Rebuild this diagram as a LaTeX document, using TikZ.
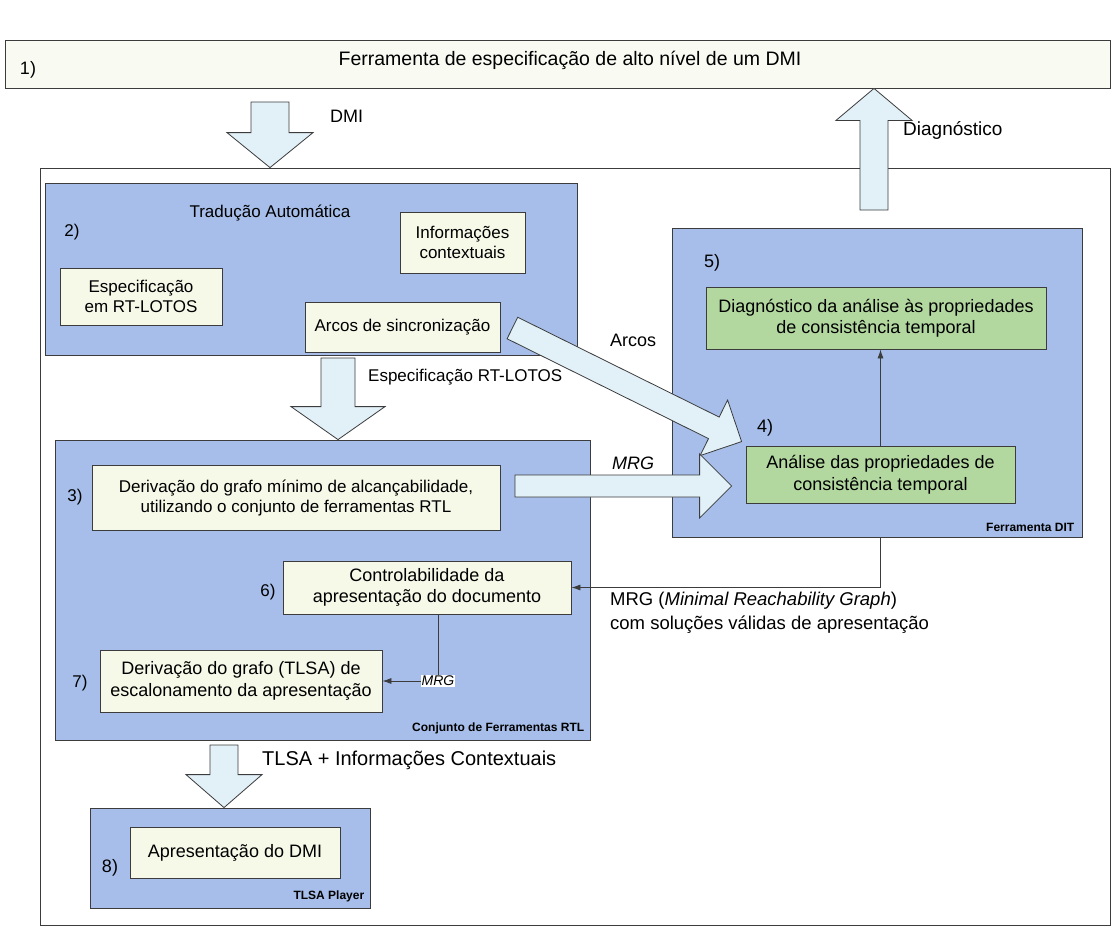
\documentclass[tikz,border=0pt]{standalone}
\usepackage{fontspec}
\setmainfont{Liberation Sans}
\usetikzlibrary{calc,arrows.meta}

\definecolor{linegray}{RGB}{60,60,60}
\definecolor{panelblue}{RGB}{166,190,233}
\definecolor{cream}{RGB}{246,248,232}
\definecolor{boxgreen}{RGB}{178,216,160}
\definecolor{arrowfill}{RGB}{226,240,248}
\definecolor{topfill}{RGB}{249,251,243}

\tikzset{
  every node/.style={font=\fontsize{17}{20}\selectfont},
  big/.style={font=\fontsize{18}{21.5}\selectfont},
  framebox/.style={draw=linegray, line width=0.8pt, inner sep=0pt},
  panel/.style={framebox, fill=panelblue},
  stepbox/.style={framebox, fill=cream, align=center},
  greenbox/.style={framebox, fill=boxgreen, align=center, big},
  tag/.style={font=\fontsize{12}{13}\selectfont\bfseries, anchor=south east, inner sep=0pt},
  lbl/.style={anchor=west, inner sep=0pt},
  hollow/.style={draw=linegray, line width=0.8pt, fill=arrowfill, line join=miter},
  conn/.style={draw=linegray, line width=0.8pt, -{Latex[length=9pt,width=6pt]}},
  smalllbl/.style={font=\fontsize{14}{16}\selectfont\itshape, fill=white, inner sep=1pt},
}

% rectangle node given by its corners: name, style, x1, y1, x2, y2, text
\newcommand\boxat[7]{%
  \node[#2, minimum width={(#5-#3)*1pt}, minimum height={(#6-#4)*1pt}]
    (#1) at ({(#3+#5)/2},{(#4+#6)/2}) {#7};}

% hollow block arrow: tail, tip, shaft half width, head half width, head length
\newcommand\hollowarrow[5]{%
  \coordinate (ha-b) at ($(#2)!#5!(#1)$);
  \draw[hollow] ($(#1)!#3!90:(#2)$) -- ($(ha-b)!#3!-90:(#1)$)
    -- ($(ha-b)!#4!-90:(#1)$) -- (#2) -- ($(ha-b)!#4!90:(#1)$)
    -- ($(ha-b)!#3!90:(#1)$) -- ($(#1)!#3!-90:(#2)$) -- cycle;}

\begin{document}
\begin{tikzpicture}[x=1pt, y=-1pt]
\fill[white] (0,0) rectangle (1119,938);
\useasboundingbox (0,0) rectangle (1119,938);

% specification tool and the surrounding frame
\boxat{box1}{framebox, fill=topfill}{5}{40}{1110}{88}{}
\node[font=\fontsize{19.5}{23}\selectfont] at (570,60) (box1txt) {Ferramenta de especificação de alto nível de um DMI};
\node[big] at (28,70) (n1) {1)};
\boxat{outer}{framebox, fill=white}{40}{168}{1110}{925}{}

% 2) automatic translation
\boxat{box2}{panel}{45}{183}{577}{355}{}
\node at (72,232) (n2) {2)};
\node at (270,213) (tradtxt) {Tradução Automática};
\boxat{info}{stepbox}{400}{212}{525}{273}{Informações\\contextuais}
\boxat{espec}{stepbox}{60}{268}{222}{325}{Especificação\\em RT-LOTOS}
\boxat{arcos}{stepbox}{305}{302}{500}{352}{Arcos de sincronização}

% 5) DIT tool
\boxat{box5}{panel}{672}{228}{1082}{537}{}
\node[big] at (712,263) (n5) {5)};
\boxat{diag}{greenbox}{706}{287}{1046}{349}{Diagnóstico da análise às propriedades\\de consistência temporal}
\node[big] at (765,428) (n4) {4)};
\boxat{analise}{greenbox}{746}{446}{1015}{503}{Análise das propriedades de\\consistência temporal}
\node[tag] at ($(box5.south east)+(-8,-6)$) (dittag) {Ferramenta DIT};

% 3) RTL tool set
\boxat{box3}{panel}{55}{440}{590}{740}{}
\node at (75,497) (n3) {3)};
\boxat{deriv}{stepbox}{92}{465}{500}{530}{Derivação do grafo mínimo de alcançabilidade,\\utilizando o conjunto de ferramentas RTL}
\node at (268,592) (n6) {6)};
\boxat{ctrl}{stepbox, big}{283}{561}{571}{614}{Controlabilidade da\\apresentação do documento}
\node at (80,683) (n7) {7)};
\boxat{tlsa}{stepbox, big}{100}{650}{382}{712}{Derivação do grafo (TLSA) de\\escalonamento da apresentação}
\node[tag] at ($(box3.south east)+(-6,-6)$) (rtltag) {Conjunto de Ferramentas RTL};

% 8) player
\boxat{box8}{panel}{90}{808}{370}{908}{}
\node[big] at (110,868) (n8) {8)};
\boxat{apres}{stepbox, big}{130}{827}{340}{878}{Apresentação do DMI}
\node[tag] at ($(box8.south east)+(-6,-6)$) (playtag) {TLSA Player};

% thin connectors
\draw[conn] (analise.north) -- (analise.north |- diag.south);
\draw[conn] (analise.south |- box5.south) |- (ctrl.east);
\draw[conn] ($(ctrl.south)+(11,0)$) |- (tlsa.east)
  node[pos=0.5, smalllbl] (mrgsmall) {MRG};

% block arrows
\coordinate (dmi-s) at (270,102);
\hollowarrow{dmi-s}{dmi-s |- outer.north}{19pt}{43pt}{35pt}
\node[lbl, big] at (330,116) (dmilbl) {DMI};

\coordinate (diag-s) at (874,210);
\hollowarrow{diag-s}{diag-s |- box1.south}{14pt}{38pt}{32pt}
\node[lbl, font=\fontsize{19}{22}\selectfont] at (903,130) (diaglbl) {Diagnóstico};

\coordinate (spec-s) at (338,358);
\hollowarrow{spec-s}{spec-s |- box3.north}{17pt}{47pt}{33pt}
\node[lbl] at (368,377) (speclbl) {Especificação RT-LOTOS};

\coordinate (arcs-s) at ($(arcos.east)+(12,1)$);
\coordinate (arcs-e) at ($(analise.north west)+(-4,-4)$);
\hollowarrow{arcs-s}{arcs-e}{12pt}{31pt}{31pt}
\node[lbl, big] at (610,340) (arcslbl) {Arcos};

\coordinate (mrg-s) at (515,486);
\coordinate (mrg-e) at ($(mrg-s -| analise.west)+(-14,0)$);
\hollowarrow{mrg-s}{mrg-e}{11pt}{32pt}{32pt}
\node[lbl, font=\fontsize{18}{21}\selectfont\itshape] at (612,463) (mrglbl) {MRG};

\node[lbl, align=left, anchor=north west, font=\fontsize{18.5}{24}\selectfont] at (610,592) (mrgnote)
  {MRG (\textit{Minimal Reachability Graph})\\com soluções válidas de apresentação};

\coordinate (tl-s) at (224,745);
\hollowarrow{tl-s}{tl-s |- box8.north}{14pt}{38pt}{33pt}
\node[lbl, font=\fontsize{20}{23}\selectfont] at (262,760) (tllbl) {TLSA + Informações Contextuais};
\end{tikzpicture}
\end{document}
